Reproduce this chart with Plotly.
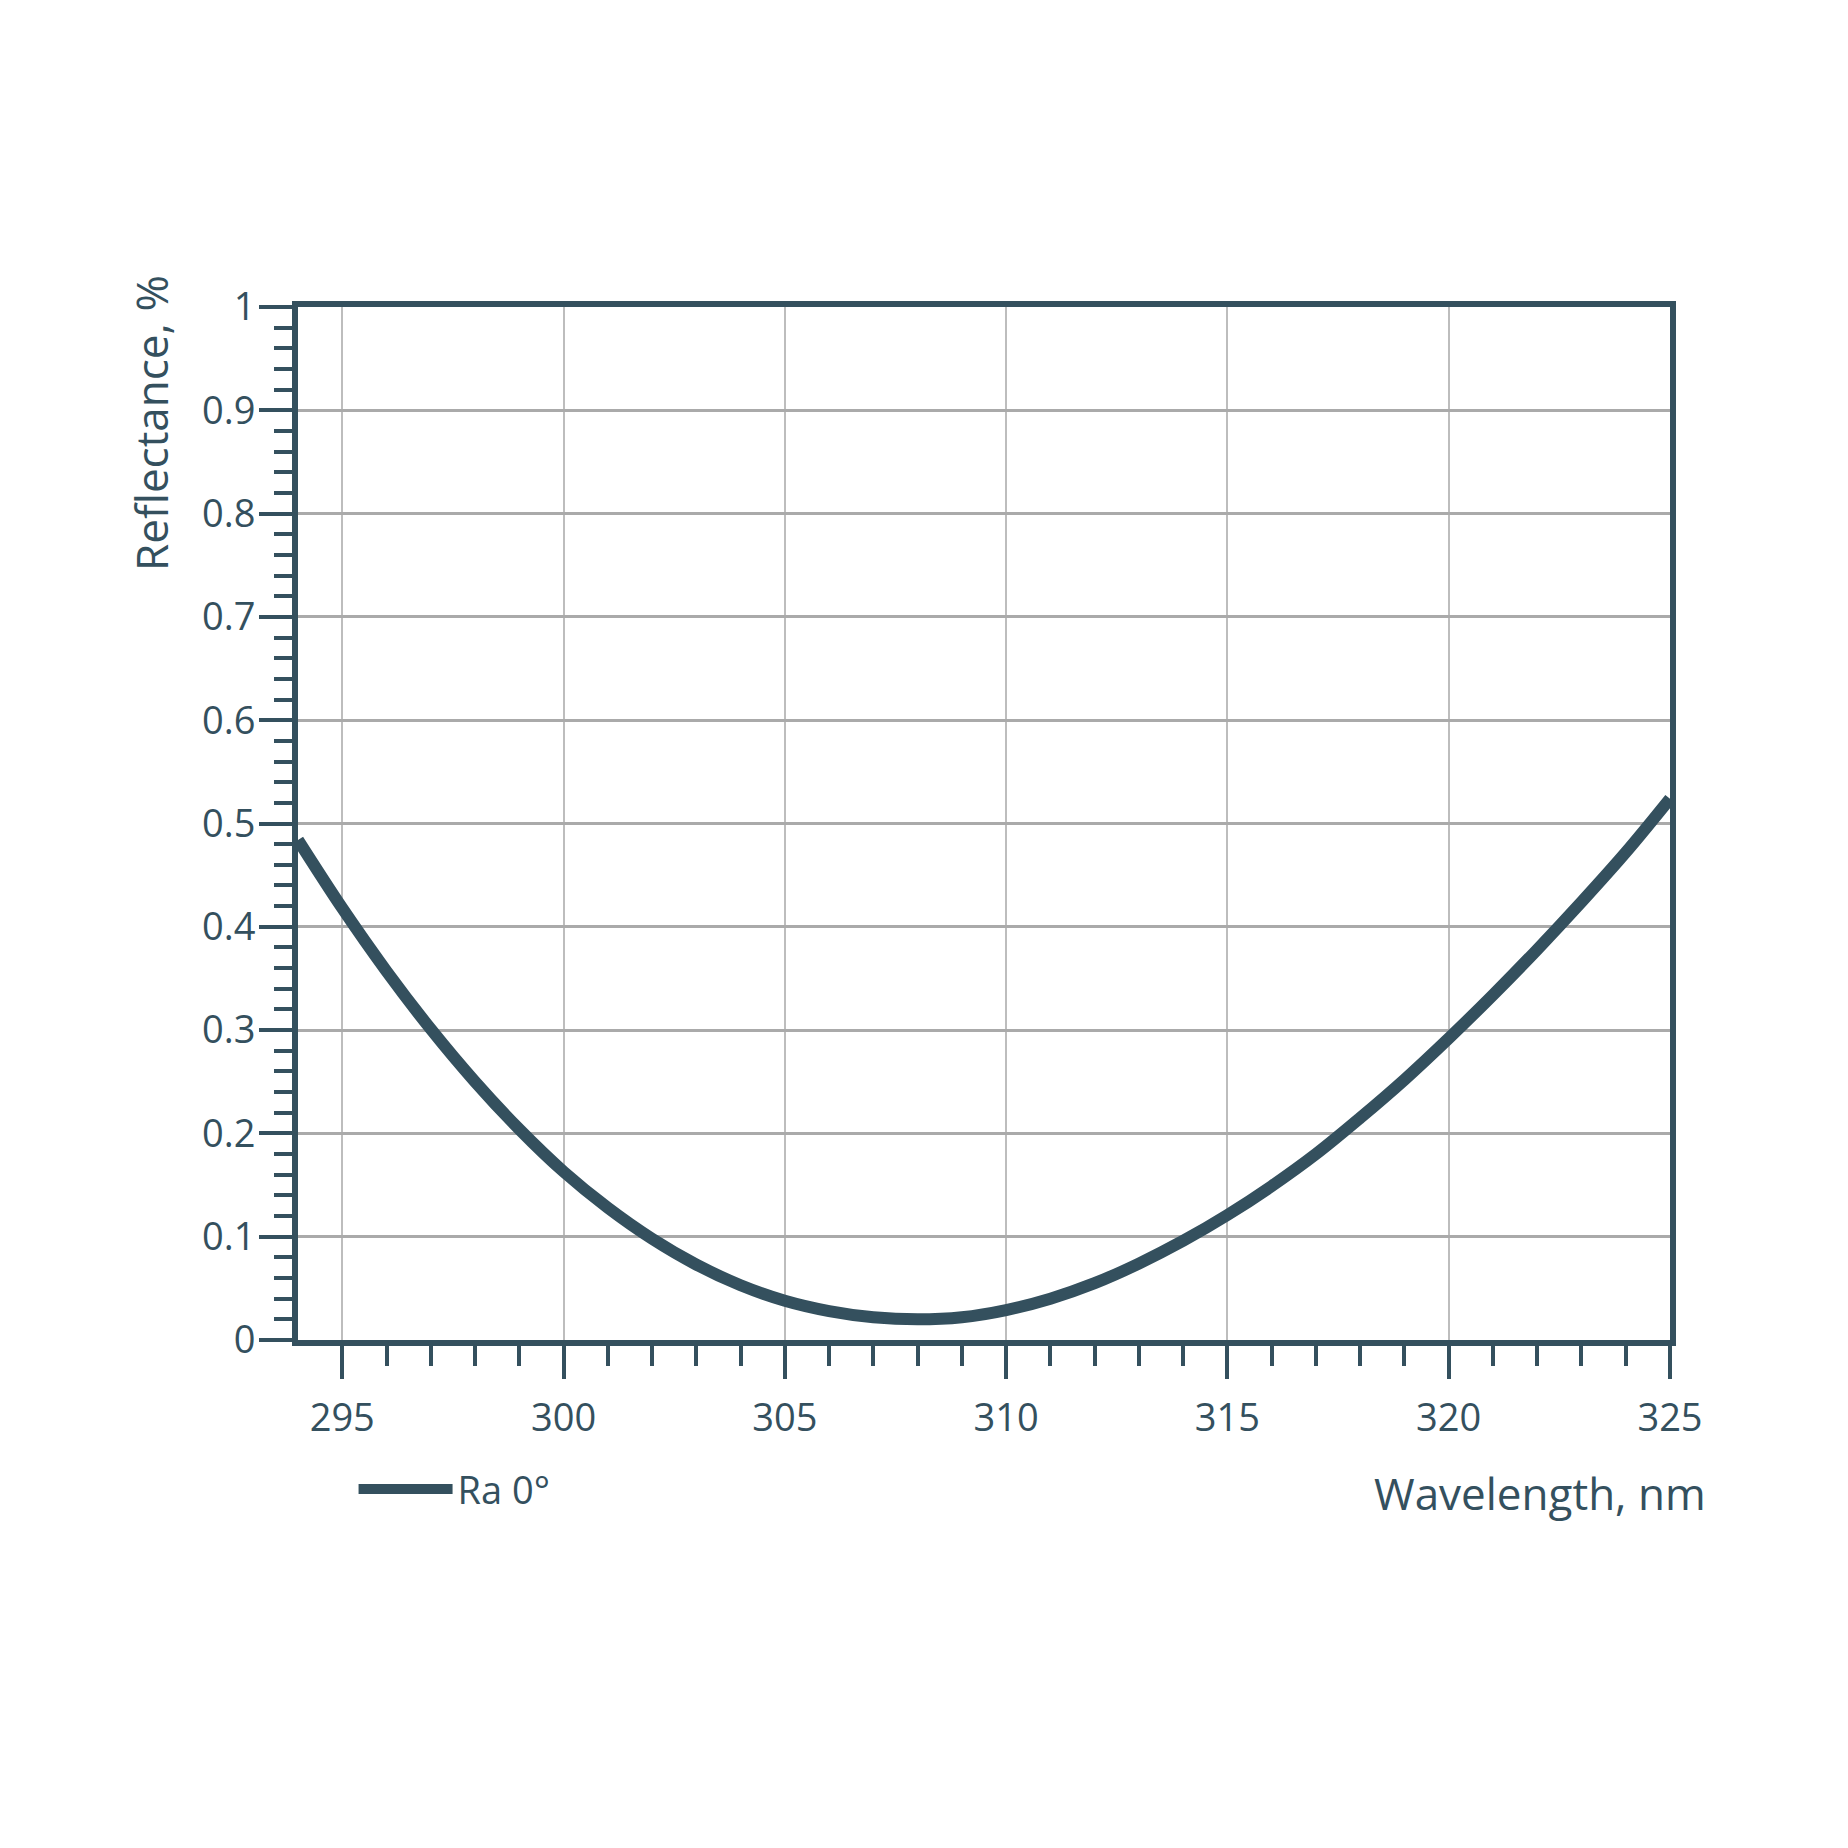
import plotly.graph_objects as go

wavelength = [294, 295, 296, 297, 298, 299, 300, 301, 302, 303, 304, 305, 306, 307, 308, 309,
              310, 311, 312, 313, 314, 315, 316, 317, 318, 319, 320, 321, 322, 323, 324, 325]
reflectance = [0.484, 0.418, 0.357, 0.301, 0.250, 0.204, 0.163, 0.128, 0.098, 0.073, 0.053,
               0.038, 0.028, 0.022, 0.020, 0.022, 0.029, 0.040, 0.055, 0.074, 0.096, 0.121,
               0.149, 0.180, 0.215, 0.252, 0.292, 0.334, 0.378, 0.424, 0.472, 0.524]
series_name = "Ra 0°"
x_ticks = [295, 300, 305, 310, 315, 320, 325]
y_ticks = [0, 0.1, 0.2, 0.3, 0.4, 0.5, 0.6, 0.7, 0.8, 0.9, 1]
y_tick_labels = ["0", "0.1", "0.2", "0.3", "0.4", "0.5", "0.6", "0.7", "0.8", "0.9", "1"]
x_minor = list(range(295, 326))
y_minor = [i / 50 for i in range(0, 51)]

DARK = "#34505e"
FONT = "Open Sans"

fig = go.Figure()
fig.add_trace(go.Scatter(
    x=wavelength, y=reflectance, mode="lines", name=series_name,
    line=dict(color=DARK, width=12, shape="spline", smoothing=1.0),
))

fig.update_layout(
    width=1848, height=1848,
    margin=dict(l=290, r=186, t=299, b=516),
    paper_bgcolor="white", plot_bgcolor="white",
    font=dict(family=FONT, color=DARK),
    showlegend=True,
    legend=dict(x=0.0405, y=-0.1445, xanchor="left", yanchor="middle",
                font=dict(size=38, color=DARK, family=FONT),
                itemwidth=94, bgcolor="rgba(0,0,0,0)"),
    xaxis=dict(
        range=[294, 325], tickmode="array", tickvals=x_ticks,
        ticks="outside", ticklen=33, tickwidth=4, tickcolor=DARK,
        showline=True, linewidth=6, linecolor=DARK, mirror=True,
        showgrid=True, gridcolor="#bdbdbd", gridwidth=1.5,
        tickfont=dict(size=38, color=DARK, family=FONT),
        ticklabelstandoff=6,
        minor=dict(tickmode="array", tickvals=x_minor, ticks="outside",
                   ticklen=20, tickwidth=4, tickcolor=DARK, showgrid=False),
        zeroline=False, fixedrange=True,
    ),
    yaxis=dict(
        range=[0, 1], tickmode="array", tickvals=y_ticks, ticktext=y_tick_labels,
        ticks="outside", ticklen=33, tickwidth=4, tickcolor=DARK,
        showline=True, linewidth=6, linecolor=DARK, mirror=True,
        showgrid=True, gridcolor="#aaaaaa", gridwidth=2.5,
        tickfont=dict(size=38, color=DARK, family=FONT),
        ticklabelstandoff=-4,
        minor=dict(tickmode="array", tickvals=y_minor, ticks="outside",
                   ticklen=18, tickwidth=4, tickcolor=DARK, showgrid=False),
        zeroline=False, fixedrange=True,
    ),
    annotations=[
        dict(text="Wavelength, nm", xref="paper", yref="paper", x=1.028, y=-0.148,
             xanchor="right", yanchor="middle", showarrow=False,
             font=dict(size=44, color=DARK, family=FONT)),
        dict(text="Reflectance, %", xref="paper", yref="paper", x=-0.107, y=0.888,
             xanchor="center", yanchor="middle", textangle=-90, showarrow=False,
             font=dict(size=44, color=DARK, family=FONT)),
    ],
)

fig.write_html("out.html")
